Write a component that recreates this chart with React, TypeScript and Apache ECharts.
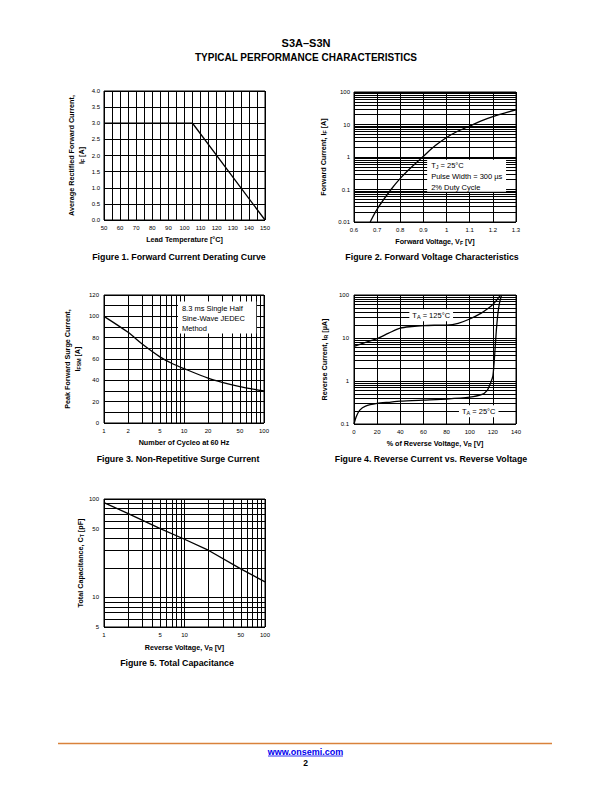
import React, { useEffect, useRef } from 'react';
import * as echarts from 'echarts';

// ---------------- Data ----------------
// Figure 1. Forward Current Derating Curve
const fig1Temp = [50, 105, 150];
const fig1Current = [3.0, 3.0, 0.0];
const fig1XTicks = [50, 60, 70, 80, 90, 100, 110, 120, 130, 140, 150];
const fig1YTicks = [0, 0.5, 1.0, 1.5, 2.0, 2.5, 3.0, 3.5, 4.0];

// Figure 2. Forward Voltage Characteristics
const fig2Voltage = [0.67, 0.7, 0.76, 0.8, 0.85, 0.9, 0.95, 1.0, 1.05, 1.1, 1.15, 1.2, 1.25, 1.3];
const fig2Current = [0.01, 0.025, 0.1, 0.22, 0.5, 1.05, 2.2, 4.0, 6.3, 9.0, 13, 17.5, 22.5, 28];
const fig2XTicks = [0.6, 0.7, 0.8, 0.9, 1.0, 1.1, 1.2, 1.3];
const fig2YTicks = [0.01, 0.1, 1, 10, 100];

// Figure 3. Non-Repetitive Surge Current
const fig3Cycles = [1, 2, 3, 5, 7, 10, 20, 30, 50, 70, 100];
const fig3Surge = [100, 85, 74, 62, 56, 51, 42, 38, 34, 32, 30];
const fig3XTicks = [1, 2, 5, 10, 20, 50, 100];
const fig3YTicks = [0, 20, 40, 60, 80, 100, 120];

// Figure 4. Reverse Current vs. Reverse Voltage
const fig4Pct125 = [0, 10, 20, 30, 40, 50, 60, 70, 80, 90, 100, 110, 115, 120, 124, 126.5];
const fig4Ir125 = [6.4, 7.9, 9.7, 13, 17, 18.5, 19.4, 19.8, 20, 22, 27.7, 38, 47, 60, 80, 100];
const fig4Pct25 = [0, 2, 5, 10, 20, 30, 40, 60, 80, 100, 110, 115, 118, 120, 121, 122, 123, 124, 125, 126, 127.5];
const fig4Ir25 = [0.1, 0.15, 0.21, 0.26, 0.3, 0.32, 0.34, 0.36, 0.38, 0.42, 0.48, 0.6, 0.9, 1.3, 2.5, 6, 15, 30, 50, 70, 100];
const fig4XTicks = [0, 20, 40, 60, 80, 100, 120, 140];
const fig4YTicks = [0.1, 1, 10, 100];

// Figure 5. Total Capacitance
const fig5Vr = [1, 2, 5, 10, 20, 50, 100];
const fig5Ct = [92, 71, 50, 39, 30, 19.5, 14.4];
const fig5XTicks = [1, 5, 10, 50, 100];
const fig5YTicks = [5, 10, 50, 100];

// ---------------- Helpers ----------------
const FONT = '"Liberation Sans", Arial, Helvetica, sans-serif';

const clean = (v: number) => Number(v.toPrecision(6));

function linLines(min: number, max: number, step: number): number[] {
  const out: number[] = [];
  const n = Math.round((max - min) / step);
  for (let i = 0; i <= n; i++) out.push(clean(min + i * step));
  return out;
}

function logLines(min: number, max: number): number[] {
  const out: number[] = [];
  let d = Math.pow(10, Math.floor(Math.log10(min)));
  while (d <= max * 1.0001) {
    for (let k = 1; k <= 9; k++) {
      const v = clean(k * d);
      if (v >= min * 0.9999 && v <= max * 1.0001) out.push(v);
    }
    d *= 10;
  }
  return out;
}

const fmtNum = (v: number) => String(clean(v));

const subRich = {
  b: { fontSize: 7.2, fontWeight: 'bold' as const, fontFamily: FONT, color: '#000' },
  s: { fontSize: 5.2, fontWeight: 'bold' as const, fontFamily: FONT, color: '#000', padding: [4, 0, 0, 0] },
};

function axisName(gap: number, rotate = 0) {
  return {
    nameLocation: 'middle' as const,
    nameGap: gap,
    nameRotate: rotate,
    nameTextStyle: {
      fontSize: 7.2,
      fontWeight: 'bold' as const,
      fontFamily: FONT,
      color: '#000',
      lineHeight: 10,
      rich: subRich,
    },
  };
}

function axis(
  gridIndex: number,
  type: 'value' | 'log',
  min: number,
  max: number,
  ticks: number[],
  name: string,
  gap: number,
  rotate: number,
  fmt: (v: number) => string,
  margin: number,
) {
  return {
    gridIndex,
    type,
    logBase: 10,
    min,
    max,
    name,
    ...axisName(gap, rotate),
    axisLine: { show: false },
    axisTick: { show: false },
    splitLine: { show: false },
    minorSplitLine: { show: false },
    axisLabel: {
      customValues: ticks,
      formatter: (v: number) => fmt(v),
      fontSize: 6,
      fontFamily: FONT,
      color: '#000',
      margin,
      showMinLabel: true,
      showMaxLabel: true,
    },
  };
}

function gridLinesSeries(idx: number, xs: number[], ys: number[]) {
  return {
    type: 'line' as const,
    xAxisIndex: idx,
    yAxisIndex: idx,
    data: [],
    silent: true,
    z: 1,
    markLine: {
      silent: true,
      symbol: ['none', 'none'],
      animation: false,
      z: 1,
      label: { show: false },
      lineStyle: { color: '#000', width: 1, type: 'solid' as const },
      emphasis: { disabled: true },
      data: [
        ...xs.map((x) => ({ xAxis: x })),
        ...ys.map((y) => ({ yAxis: y })),
      ],
    },
  };
}

function curve(idx: number, xs: number[], ys: number[], smooth: number | boolean) {
  return {
    type: 'line' as const,
    xAxisIndex: idx,
    yAxisIndex: idx,
    data: xs.map((x, i) => [x, ys[i]]),
    showSymbol: false,
    symbol: 'none',
    smooth,
    silent: true,
    z: 10,
    lineStyle: { color: '#000', width: 1.3 },
  };
}

function boxSeries(
  idx: number,
  corner1: [number, number],
  corner2: [number, number],
  text: string,
  lineHeight: number,
  offset: [number, number],
) {
  return {
    type: 'line' as const,
    xAxisIndex: idx,
    yAxisIndex: idx,
    data: [],
    silent: true,
    z: 5,
    markArea: {
      silent: true,
      z: 5,
      itemStyle: { color: '#fff', borderWidth: 0 },
      label: {
        show: true,
        position: 'insideTopLeft' as const,
        distance: 0,
        offset,
        fontSize: 7.5,
        fontFamily: FONT,
        color: '#000',
        lineHeight,
        formatter: text,
        rich: {
          n: { fontSize: 7.5, fontFamily: FONT, color: '#000', lineHeight },
          s: { fontSize: 5.5, fontFamily: FONT, color: '#000', lineHeight, padding: [4, 0, 0, 0] },
        },
      },
      data: [[{ coord: corner1 }, { coord: corner2 }]],
    },
  };
}

function tagSeries(idx: number, at: [number, number], text: string) {
  return {
    type: 'scatter' as const,
    xAxisIndex: idx,
    yAxisIndex: idx,
    data: [],
    silent: true,
    z: 6,
    markPoint: {
      silent: true,
      z: 6,
      symbol: 'rect',
      symbolSize: 0,
      itemStyle: { color: 'rgba(0,0,0,0)' },
      label: {
        show: true,
        position: 'inside' as const,
        formatter: text,
        backgroundColor: '#fff',
        padding: [1, 3, 1, 3],
        fontSize: 7.5,
        fontFamily: FONT,
        color: '#000',
        rich: {
          n: { fontSize: 7.5, fontFamily: FONT, color: '#000' },
          s: { fontSize: 5.5, fontFamily: FONT, color: '#000', padding: [4, 0, 0, 0] },
        },
      },
      data: [{ coord: at }],
    },
  };
}

function caption(text: string, x: number, y: number) {
  return {
    type: 'text' as const,
    x,
    y,
    style: {
      text,
      fontSize: 8.8,
      fontWeight: 'bold' as const,
      fontFamily: FONT,
      fill: '#000',
      align: 'center' as const,
      verticalAlign: 'middle' as const,
    },
  };
}

export default function App() {
  const ref = useRef<HTMLDivElement>(null);

  useEffect(() => {
    if (!ref.current) return;
    const chart = echarts.init(ref.current, undefined, { renderer: 'svg' });

    const grids = [
      { left: 104, top: 91, width: 161, height: 129 },
      { left: 354, top: 92, width: 162, height: 130 },
      { left: 104, top: 295, width: 160, height: 128 },
      { left: 354, top: 295, width: 162, height: 129 },
      { left: 104, top: 499, width: 161, height: 128 },
    ].map((g) => ({ ...g, show: true, borderColor: '#000', borderWidth: 1, backgroundColor: 'transparent', z: 2 }));

    const fix1 = (v: number) => v.toFixed(1);

    const xAxes = [
      axis(0, 'value', 50, 150, fig1XTicks, 'Lead Temperature [°C]', 14, 0, fmtNum, 5),
      axis(1, 'value', 0.6, 1.3, fig2XTicks, '{b|Forward Voltage, V}{s|F}{b| [V]}', 14, 0, fmtNum, 5),
      axis(2, 'log', 1, 100, fig3XTicks, 'Number of Cycleo at 60 Hz', 14, 0, fmtNum, 5),
      axis(3, 'value', 0, 140, fig4XTicks, '{b|% of Reverse Voltage, V}{s|R}{b| [V]}', 14, 0, fmtNum, 5),
      axis(4, 'log', 1, 100, fig5XTicks, '{b|Reverse Voltage, V}{s|R}{b| [V]}', 15, 0, fmtNum, 5),
    ];
    const yAxes = [
      axis(0, 'value', 0, 4, fig1YTicks, '{b|Average Rectified Forward Current,}\n{b|I}{s|F}{b| [A]}', 18, 90, fix1, 4),
      axis(1, 'log', 0.01, 100, fig2YTicks, '{b|Forward Current, I}{s|F}{b| [A]}', 26, 90, fmtNum, 4),
      axis(2, 'value', 0, 120, fig3YTicks, '{b|Peak Forward Surge Current,}\n{b|I}{s|FSM}{b| [A]}', 22, 90, fmtNum, 5),
      axis(3, 'log', 0.1, 100, fig4YTicks, '{b|Reverse Current, I}{s|R}{b| [µA]}', 25, 90, fmtNum, 5),
      axis(4, 'log', 5, 100, fig5YTicks, '{b|Total Capacitance, C}{s|T}{b| [pF]}', 19, 90, fmtNum, 5),
    ];

    const series: any[] = [
      gridLinesSeries(0, linLines(50, 150, 5), linLines(0, 4, 0.5)),
      gridLinesSeries(1, linLines(0.6, 1.3, 0.1), logLines(0.01, 100)),
      gridLinesSeries(2, logLines(1, 100), linLines(0, 120, 10)),
      gridLinesSeries(3, linLines(0, 140, 20), logLines(0.1, 100)),
      gridLinesSeries(4, logLines(1, 100), logLines(5, 100)),

      boxSeries(1, [0.916, 0.83], [1.257, 0.085],
        '{n|T}{s|J}{n| = 25°C}\n{n|Pulse Width = 300 µs}\n{n|2% Duty Cycle}', 11, [4, 0]),
      boxSeries(2, [8.4, 114], [80, 84],
        '{n|8.3 ms Single Half}\n{n|Sine-Wave JEDEC}\n{n|Method}', 9.7, [4, 2.5]),

      tagSeries(3, [66.7, 33.6], '{n|T}{s|A}{n| = 125°C}'),
      tagSeries(3, [107.8, 0.197], '{n|T}{s|A}{n| = 25°C}'),

      curve(0, fig1Temp, fig1Current, false),
      curve(1, fig2Voltage, fig2Current, 0.3),
      curve(2, fig3Cycles, fig3Surge, 0.3),
      curve(3, fig4Pct125, fig4Ir125, 0.3),
      curve(3, fig4Pct25, fig4Ir25, 0.2),
      curve(4, fig5Vr, fig5Ct, false),
    ];

    chart.setOption({
      animation: false,
      backgroundColor: '#fff',
      grid: grids,
      xAxis: xAxes,
      yAxis: yAxes,
      series,
      graphic: [
        {
          type: 'text', x: 306, y: 43,
          style: { text: 'S3A–S3N', fontSize: 11, fontWeight: 'bold', fontFamily: FONT, fill: '#000', align: 'center', verticalAlign: 'middle' },
        },
        {
          type: 'text', x: 306, y: 57,
          style: { text: 'TYPICAL PERFORMANCE CHARACTERISTICS', fontSize: 10, fontWeight: 'bold', fontFamily: FONT, fill: '#000', align: 'center', verticalAlign: 'middle' },
        },
        caption('Figure 1. Forward Current Derating Curve', 179, 257),
        caption('Figure 2. Forward Voltage Characteristics', 432, 257),
        caption('Figure 3. Non-Repetitive Surge Current', 178, 459),
        caption('Figure 4. Reverse Current vs. Reverse Voltage', 431, 459),
        caption('Figure 5. Total Capacitance', 177, 663),
        {
          type: 'line',
          shape: { x1: 58, y1: 743.5, x2: 552, y2: 743.5 },
          style: { stroke: '#D9823B', lineWidth: 1.5 },
        },
        {
          type: 'text', x: 305.5, y: 751.5,
          style: { text: 'www.onsemi.com', fontSize: 9, fontWeight: 'bold', fontFamily: FONT, fill: '#0000EE', align: 'center', verticalAlign: 'middle' },
        },
        {
          type: 'line',
          shape: { x1: 268, y1: 756, x2: 343, y2: 756 },
          style: { stroke: '#0000EE', lineWidth: 0.8 },
        },
        {
          type: 'text', x: 305.5, y: 762.5,
          style: { text: '2', fontSize: 8.5, fontWeight: 'bold', fontFamily: FONT, fill: '#000', align: 'center', verticalAlign: 'middle' },
        },
      ],
    });

    return () => chart.dispose();
  }, []);

  return (
    <div
      ref={ref}
      style={{ position: 'fixed', left: 0, top: 0, width: 612, height: 792, background: '#fff' }}
    />
  );
}
